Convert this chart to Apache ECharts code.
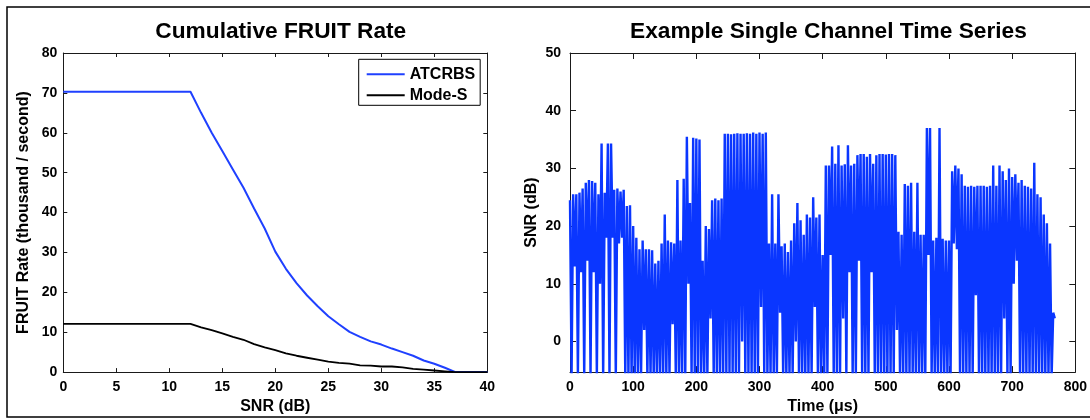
<!DOCTYPE html>
<html><head><meta charset="utf-8">
<script src="https://cdn.jsdelivr.net/npm/echarts@6/dist/echarts.min.js"></script>
<style>html,body{margin:0;padding:0;background:#fff}#c{width:1090px;height:420px}</style>
</head><body><div id="c"></div>
<script>
// ---- Left chart: cumulative FRUIT rate ----
const snrDb = [0,12,13,14,15,16,17,18,19,20,21,22,23,24,25,26,27,28,29,30,31,32,33,34,35,36,37,38,39,40];
const atcrbsRate = [70.3,70.3,65,60,55.4,50.8,46.2,41,36,30.2,25.9,22.3,19.2,16.5,14,12,10.1,8.85,7.7,6.9,5.9,5,4.1,2.9,2.1,1.1,0,0,0,0];
const modeSRate = [12.1,12.1,11.2,10.5,9.7,8.85,8.1,7,6.2,5.5,4.7,4.1,3.6,3.1,2.6,2.3,2.1,1.7,1.6,1.4,1.4,1.2,0.8,0.6,0.4,0.2,0,0,0,0];

// ---- Right chart: single-channel time series (5 us samples: peak then trough) ----
const tsStep = 5; // microseconds between peak samples
const tsUpper = [
  24.5,25.5,25.5,25.8,26.5,27.5,28,27.8,27.5,25.5,
  34.3,25.8,34.3,34.3,26.3,26.5,26,26.3,23.5,23.6,
  20,18,16,17.5,16,16,15.8,13.5,14,17,
  22,17.5,17.2,17,28,17.5,28.2,35.5,24,35.3,
  35.2,35,14,20,19.5,24.5,24.8,24.5,24.8,36,
  36,35.9,36,36.1,36,36,36.1,36,36.2,36,
  36.2,36,36.2,17,25.5,17,25.5,16.5,17,15.5,
  17.5,20.5,24,21,18.5,22,21.5,25,21.5,22,
  15,30.5,30.5,33.8,30.8,34,30.5,30.7,34,30.5,
  30.8,32.3,32.5,32.5,32,32.5,30.8,32.3,32.5,32.5,
  32.4,32.5,32.5,32.3,19,18.5,27.3,27,27.5,19,
  27.5,18.5,18.5,37,37,17.5,18,37,17.8,17.5,
  17.5,29.5,30.5,30,29,27,26.8,27,26.8,27,
  27,27,26.8,27,30.5,27,30.5,29.5,28,30,
  28.5,29,27.5,28,27,26.8,26.5,31,25.5,25,
  22,20.5,17,5
];
const tsLower = [
  -6,13,-6,12,-6,14,-6,12,-6,10,
  -6,18,-6,18,-6,17,18,-6,-6,-6,
  -6,-6,-6,2,-6,-6,-6,-6,-6,-6,
  -6,-6,3,-6,-6,-6,-6,10,-6,-6,
  -6,-6,-6,-6,4,-6,-6,-6,-6,-6,
  -6,-6,-6,-6,0,-6,-6,-6,-6,-6,
  6,-6,-6,-6,-6,-6,5,-6,-6,-6,
  -6,0,-6,-6,-6,-6,-6,6,-6,-6,
  -6,-6,15,-6,-6,-6,4,-6,12,-6,
  -6,14,-6,-6,-6,12,-6,-6,-6,-6,
  -6,-6,-6,2,-6,-6,-6,-6,-6,-6,
  -6,-6,-6,15,-6,-6,-6,-6,-6,-6,
  -6,17,16,-6,-6,-6,-6,-6,8,-6,
  -6,-6,-6,-6,-6,-6,-6,4,-6,-6,
  10,14,-6,-6,-6,-6,-6,-6,-6,-6,
  -6,-6,-6,4
];

const FONT = '"Liberation Sans", Arial, Helvetica, sans-serif';
const AX = '#1a1a1a';

const fruitA = snrDb.map((x, i) => [x, atcrbsRate[i]]);
const fruitM = snrDb.map((x, i) => [x, modeSRate[i]]);
const tsData = [];
tsUpper.forEach((v, i) => {
  tsData.push([i * tsStep, v]);
  tsData.push([i * tsStep + tsStep / 2, tsLower[i]]);
});

const labelStyle = { color: '#000', fontSize: 14, fontWeight: 'bold', fontFamily: FONT };
const nameStyle = { color: '#000', fontSize: 16, fontWeight: 'bold', fontFamily: FONT };
function axisBase(extra) {
  return Object.assign({
    type: 'value',
    axisLine: { show: true, onZero: false, lineStyle: { color: AX, width: 1 } },
    axisTick: { show: true, inside: true, length: 5, lineStyle: { color: AX, width: 1 } },
    splitLine: { show: false },
    axisLabel: Object.assign({}, labelStyle),
    nameTextStyle: nameStyle
  }, extra);
}
const yTicksR = [0, 10, 20, 30, 40, 50];

const chart = echarts.init(document.getElementById('c'), null, { renderer: 'canvas' });
chart.setOption({
  animation: false,
  backgroundColor: '#fff',
  title: [
    { text: 'Cumulative FRUIT Rate', left: 275.8, top: 15, textAlign: 'center',
      textStyle: { fontSize: 22.7, fontWeight: 'bold', fontFamily: FONT, color: '#000' } },
    { text: 'Example Single Channel Time Series', left: 823.4, top: 15, textAlign: 'center',
      textStyle: { fontSize: 22.7, fontWeight: 'bold', fontFamily: FONT, color: '#000' } }
  ],
  grid: [
    { left: 63.3, top: 53, width: 424, height: 322 },
    { left: 570, top: 53, width: 507, height: 322 }
  ],
  legend: {
    orient: 'vertical', left: 358.7, top: 59.3,
    itemWidth: 38, itemHeight: 2, itemGap: 3,
    padding: [6, 5, 1, 8],
    borderColor: '#000', borderWidth: 1, backgroundColor: '#fff',
    textStyle: { fontSize: 16, fontWeight: 'bold', fontFamily: FONT, color: '#000', lineHeight: 18 },
    data: [{ name: 'ATCRBS', icon: 'rect' }, { name: 'Mode-S', icon: 'rect' }]
  },
  xAxis: [
    axisBase({ gridIndex: 0, min: 0, max: 40, interval: 5, position: 'bottom',
      name: 'SNR (dB)', nameLocation: 'middle', nameGap: 24,
      axisTick: { show: true, inside: true, length: 4, lineStyle: { color: AX } },
      axisLabel: Object.assign({ margin: 8 }, labelStyle) }),
    axisBase({ gridIndex: 0, min: 0, max: 40, interval: 5, position: 'top',
      axisTick: { show: true, inside: true, length: 4, lineStyle: { color: AX } },
      axisLabel: { show: false } }),
    axisBase({ gridIndex: 1, min: 0, max: 800, interval: 100, position: 'bottom',
      name: 'Time (\u03bcs)', nameLocation: 'middle', nameGap: 24,
      axisTick: { show: true, inside: true, length: 6, lineStyle: { color: AX } },
      axisLabel: Object.assign({ margin: 8 }, labelStyle) }),
    axisBase({ gridIndex: 1, min: 0, max: 800, interval: 100, position: 'top',
      axisTick: { show: true, inside: true, length: 6, lineStyle: { color: AX } },
      axisLabel: { show: false } })
  ],
  yAxis: [
    axisBase({ gridIndex: 0, min: 0, max: 80, interval: 10, position: 'left',
      name: 'FRUIT Rate (thousand / second)', nameLocation: 'middle', nameGap: 32,
      axisTick: { show: true, inside: true, length: 4, lineStyle: { color: AX } },
      axisLabel: Object.assign({ margin: 6 }, labelStyle) }),
    axisBase({ gridIndex: 0, min: 0, max: 80, interval: 10, position: 'right',
      axisTick: { show: true, inside: true, length: 4, lineStyle: { color: AX } },
      axisLabel: { show: false } }),
    axisBase({ gridIndex: 1, min: -5.3, max: 50, position: 'left',
      name: 'SNR (dB)', nameLocation: 'middle', nameGap: 30,
      axisTick: { show: true, inside: true, length: 6, customValues: yTicksR, lineStyle: { color: AX } },
      axisLabel: Object.assign({ margin: 9, customValues: yTicksR }, labelStyle) }),
    axisBase({ gridIndex: 1, min: -5.3, max: 50, position: 'right',
      axisTick: { show: true, inside: true, length: 6, customValues: yTicksR, lineStyle: { color: AX } },
      axisLabel: { show: false, customValues: yTicksR } })
  ],
  series: [
    { name: 'ATCRBS', type: 'line', xAxisIndex: 0, yAxisIndex: 0, data: fruitA,
      symbol: 'none', showSymbol: false, color: '#1f40ff',
      lineStyle: { color: '#1f40ff', width: 2 } },
    { name: 'Mode-S', type: 'line', xAxisIndex: 0, yAxisIndex: 0, data: fruitM,
      symbol: 'none', showSymbol: false, color: '#000',
      lineStyle: { color: '#000', width: 1.8 } },
    { name: 'SNR', type: 'line', xAxisIndex: 2, yAxisIndex: 2, data: tsData,
      symbol: 'none', showSymbol: false, clip: true, color: '#0a36ff',
      lineStyle: { color: '#0a36ff', width: 2.4, join: 'bevel' } }
  ],
  graphic: [
    { type: 'rect', silent: true, z: 100,
      shape: { x: 7, y: 7, width: 1100, height: 410 },
      style: { fill: 'transparent', stroke: '#000', lineWidth: 1.5 } }
  ]
});
</script>
</body></html>
